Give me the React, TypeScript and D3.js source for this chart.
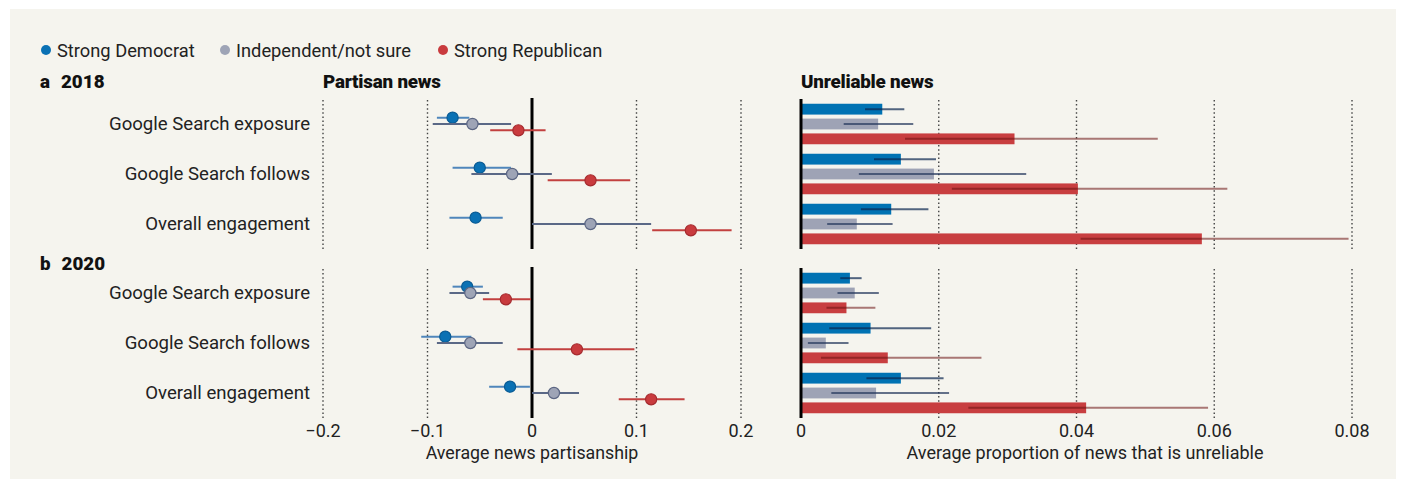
import React from 'react';
import * as d3 from 'd3';

// Categories and series
const rows = ['Google Search exposure', 'Google Search follows', 'Overall engagement'];
const groups = ['Strong Democrat', 'Independent/not sure', 'Strong Republican'];
const years = ['2018', '2020'];
const panelLetters = ['a', 'b'];

// Average news partisanship: [estimate, low, high] per row -> group
const partisan2018 = [
  [[-0.076, -0.091, -0.06], [-0.057, -0.095, -0.02], [-0.013, -0.04, 0.013]],
  [[-0.05, -0.076, -0.02], [-0.019, -0.058, 0.019], [0.056, 0.015, 0.094]],
  [[-0.054, -0.079, -0.028], [0.056, 0.0, 0.114], [0.152, 0.115, 0.191]],
];
const partisan2020 = [
  [[-0.062, -0.076, -0.047], [-0.059, -0.079, -0.041], [-0.025, -0.047, -0.001]],
  [[-0.083, -0.106, -0.058], [-0.059, -0.091, -0.028], [0.043, -0.014, 0.098]],
  [[-0.021, -0.041, -0.002], [0.021, 0.0, 0.045], [0.114, 0.083, 0.146]],
];

// Average proportion of unreliable news: [estimate, low, high]
const unreliable2018 = [
  [[0.0118, 0.0093, 0.015], [0.0112, 0.0062, 0.0163], [0.031, 0.0151, 0.0518]],
  [[0.0145, 0.0106, 0.0196], [0.0193, 0.0084, 0.0327], [0.0402, 0.0219, 0.0619]],
  [[0.0131, 0.0087, 0.0185], [0.0081, 0.0038, 0.0133], [0.0582, 0.0406, 0.0795]],
];
const unreliable2020 = [
  [[0.0071, 0.0057, 0.0088], [0.0078, 0.0053, 0.0113], [0.0066, 0.0037, 0.0108]],
  [[0.0101, 0.0041, 0.0189], [0.0036, 0.001, 0.0069], [0.0126, 0.0029, 0.0262]],
  [[0.0145, 0.0095, 0.0207], [0.0109, 0.0044, 0.0215], [0.0414, 0.0243, 0.0591]],
];

const partisanTicks = [-0.2, -0.1, 0, 0.1, 0.2];
const unreliableTicks = [0, 0.02, 0.04, 0.06, 0.08];

const partisanData = [partisan2018, partisan2020];
const unreliableData = [unreliable2018, unreliable2020];

const dotFill = ['#0a71b4', '#9ea4b6', '#c93b3e'];
const dotStroke = ['#0a5b94', '#5c6683', '#a52b2f'];
const ciLine = ['#4f86bb', '#5a6886', '#c2403f'];
const barFill = ['#0072b3', '#9ea3b5', '#c83e40'];
const barCi = ['#0b2650', '#25375c', '#6a1010'];
const barCiOpacity = [0.7, 0.7, 0.55];

const FONT = 'Roboto, "Noto Sans", sans-serif';
const fmt = (v: number) => (v === 0 ? '0' : d3.format('.2~f')(v).replace('-', '\u2212'));

export default function App() {
  const width = 1405;
  const height = 480;

  const xLeft = d3.scaleLinear().domain([-0.2, 0.2]).range([323, 741]);
  const xRight = d3.scaleLinear().domain([0, 0.08]).range([801, 1352]);

  const panelRanges: [number, number][] = [[99, 249], [268, 418]];
  const headerY = [88, 270];
  const yScales = panelRanges.map((r) => d3.scaleBand<string>().domain(rows).range(r));
  const dotOffset = d3.scaleBand<string>().domain(groups).range([-9.5, 9.5]);
  const barOffset = d3.scaleBand<string>().domain(groups).range([-20.25, 20.25]).paddingInner(0.27);

  const gridStyle = { stroke: '#444', strokeWidth: 1.4, strokeDasharray: '1.5,2.6' };
  const legendX = [46, 225, 443];

  return (
    <svg width={width} height={height} style={{ position: 'absolute', left: 0, top: 0 }}>
      <rect x={10} y={9} width={1386} height={470} fill="#f5f4ee" />

      {/* Legend */}
      {groups.map((g, i) => (
        <g key={g}>
          <circle cx={legendX[i]} cy={50} r={5} fill={dotFill[i]} />
          <text x={legendX[i] + 11} y={56.5} fontFamily={FONT} fontSize={18.3} fill="#222">
            {g}
          </text>
        </g>
      ))}

      {/* Panel titles */}
      <text x={323} y={88} fontFamily={FONT} fontSize={18.8} fontWeight={900} fill="#111" letterSpacing={-0.2}>
        Partisan news
      </text>
      <text x={801} y={88} fontFamily={FONT} fontSize={18.8} fontWeight={900} fill="#111" letterSpacing={-0.2}>
        Unreliable news
      </text>

      {years.map((year, p) => {
        const y = yScales[p];
        const [top, bottom] = panelRanges[p];
        const pData = partisanData[p];
        const uData = unreliableData[p];
        return (
          <g key={year}>
            <text x={40} y={headerY[p]} fontFamily={FONT} fontSize={18.8} fontWeight={900} fill="#111">
              {panelLetters[p]}
              <tspan dx={11}>{year}</tspan>
            </text>

            {/* row labels */}
            {rows.map((r) => (
              <text
                key={r}
                x={310}
                y={(y(r) as number) + y.bandwidth() / 2 - 1}
                dy="0.35em"
                textAnchor="end"
                fontFamily={FONT}
                fontSize={18.6}
                fill="#222"
              >
                {r}
              </text>
            ))}

            {/* Left grid */}
            {partisanTicks
              .filter((t) => t !== 0)
              .map((t) => (
                <line key={t} x1={xLeft(t)} x2={xLeft(t)} y1={top + 1} y2={bottom} {...gridStyle} />
              ))}
            <line x1={xLeft(0)} x2={xLeft(0)} y1={top - 1} y2={bottom} stroke="#000" strokeWidth={3} />

            {/* Left dots and intervals */}
            {rows.map((r, ri) =>
              groups.map((g, gi) => {
                const [est, lo, hi] = pData[ri][gi];
                const cy = (y(r) as number) + y.bandwidth() / 2 + (dotOffset(g) as number) + dotOffset.bandwidth() / 2;
                return (
                  <g key={r + g}>
                    <line x1={xLeft(lo)} x2={xLeft(hi)} y1={cy} y2={cy} stroke={ciLine[gi]} strokeWidth={2} />
                    <circle cx={xLeft(est)} cy={cy} r={5.6} fill={dotFill[gi]} stroke={dotStroke[gi]} strokeWidth={1.2} />
                  </g>
                );
              })
            )}

            {/* Right grid */}
            {unreliableTicks
              .filter((t) => t !== 0)
              .map((t) => (
                <line key={t} x1={xRight(t)} x2={xRight(t)} y1={top + 1} y2={bottom} {...gridStyle} />
              ))}

            {/* Bars */}
            {rows.map((r, ri) =>
              groups.map((g, gi) => {
                const [est, lo, hi] = uData[ri][gi];
                const by = (y(r) as number) + y.bandwidth() / 2 + (barOffset(g) as number);
                const bh = barOffset.bandwidth();
                return (
                  <g key={r + g}>
                    <rect x={xRight(0)} y={by} width={xRight(est) - xRight(0)} height={bh} fill={barFill[gi]} />
                    <line
                      x1={xRight(lo)}
                      x2={xRight(hi)}
                      y1={by + bh / 2}
                      y2={by + bh / 2}
                      stroke={barCi[gi]}
                      strokeOpacity={barCiOpacity[gi]}
                      strokeWidth={2}
                    />
                  </g>
                );
              })
            )}
            <line x1={xRight(0)} x2={xRight(0)} y1={top} y2={bottom} stroke="#000" strokeWidth={3} />
          </g>
        );
      })}

      {/* Axis tick labels */}
      {partisanTicks.map((t) => (
        <text key={t} x={xLeft(t)} y={437} textAnchor="middle" fontFamily={FONT} fontSize={18} fill="#222">
          {fmt(t)}
        </text>
      ))}
      {unreliableTicks.map((t) => (
        <text key={t} x={xRight(t)} y={437} textAnchor="middle" fontFamily={FONT} fontSize={18} fill="#222">
          {fmt(t)}
        </text>
      ))}
      <text x={xLeft(0)} y={459} textAnchor="middle" fontFamily={FONT} fontSize={17.8} fill="#222">
        Average news partisanship
      </text>
      <text x={1085} y={459} textAnchor="middle" fontFamily={FONT} fontSize={18} fill="#222">
        Average proportion of news that is unreliable
      </text>
    </svg>
  );
}
